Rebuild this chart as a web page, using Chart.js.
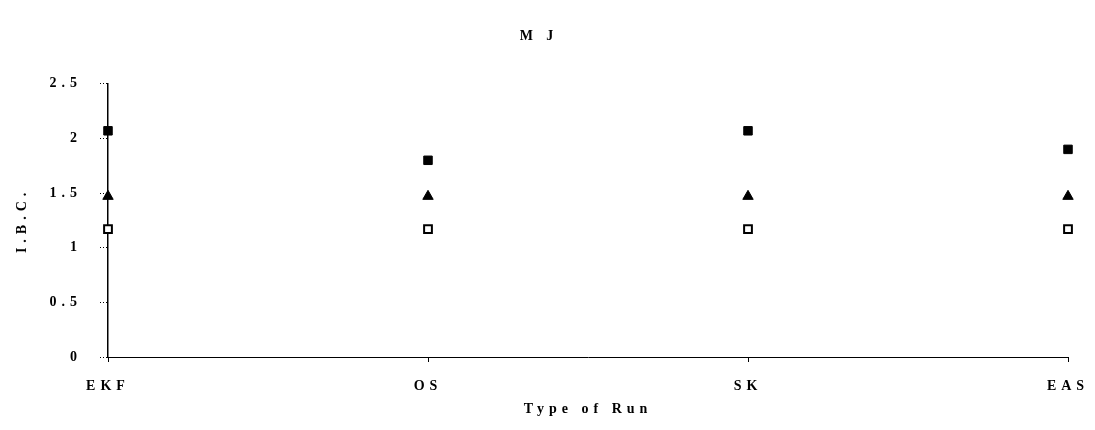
<!DOCTYPE html>
<html>
<head>
<meta charset="utf-8">
<script src="https://cdn.jsdelivr.net/npm/chart.js@4/dist/chart.umd.min.js"></script>
<style>
  html, body { margin: 0; padding: 0; background: #fff; }
  #wrap { width: 1095px; height: 430px; }
</style>
</head>
<body>
<div id="wrap"><canvas id="chart"></canvas></div>
<script>
const categories = ['EKF', 'OS', 'SK', 'EAS'];
const seriesFilled = [2.07, 1.80, 2.07, 1.90];
const seriesTriangle = [1.47, 1.47, 1.47, 1.47];
const seriesOpen = [1.17, 1.17, 1.17, 1.17];
const yTicks = [0, 0.5, 1, 1.5, 2, 2.5];

const serif = '"Liberation Serif", "DejaVu Serif", serif';

function toPoints(values) {
    return values.map((v, i) => ({ x: i, y: v }));
}

// spread the letters a bit, the scan has wide spaced text
const spacing = {
    id: 'spacing',
    beforeLayout(chart) { chart.ctx.letterSpacing = '5px'; },
    beforeDraw(chart) { chart.ctx.letterSpacing = '5px'; },
};

new Chart(document.getElementById('chart'), {
    type: 'scatter',
    data: {
        datasets: [
            {
                label: 'filled',
                data: toPoints(seriesFilled),
                pointStyle: 'rect',
                pointRadius: 6,
                backgroundColor: '#000',
                borderColor: '#000',
                borderWidth: 1,
                clip: false,
            },
            {
                label: 'triangle',
                data: toPoints(seriesTriangle),
                pointStyle: 'triangle',
                pointRadius: 6,
                backgroundColor: '#000',
                borderColor: '#000',
                borderWidth: 1,
                clip: false,
            },
            {
                label: 'open',
                data: toPoints(seriesOpen),
                pointStyle: 'rect',
                pointRadius: 5.5,
                backgroundColor: '#fff',
                borderColor: '#000',
                borderWidth: 2,
                clip: false,
            },
        ],
    },
    options: {
        responsive: true,
        maintainAspectRatio: false,
        animation: false,
        layout: { padding: { left: 10, right: 27, top: 0, bottom: 8 } },
        plugins: {
            legend: { display: false },
            tooltip: { enabled: false },
            title: {
                display: true,
                text: 'M J',
                color: '#000',
                font: { family: serif, size: 14, weight: 'bold' },
                padding: { top: 28, bottom: 39 },
            },
        },
        scales: {
            x: {
                type: 'linear',
                min: 0,
                max: 3,
                afterFit(scale) {
                    scale.height = 65;
                    scale.paddingLeft = 0;
                    scale.paddingRight = 0;
                },
                afterBuildTicks(scale) { scale.ticks = categories.map((c, i) => ({ value: i })); },
                ticks: {
                    color: '#000',
                    padding: 16,
                    font: { family: serif, size: 14, weight: 'bold' },
                    callback: (v) => categories[v],
                },
                grid: {
                    drawOnChartArea: false,
                    tickLength: 5,
                    tickColor: '#000',
                },
                border: { color: '#000', width: 1, dash: [5, 3] },
                title: {
                    display: true,
                    text: 'Type of Run',
                    color: '#000',
                    font: { family: serif, size: 14, weight: 'bold' },
                    padding: { top: 2 },
                },
            },
            y: {
                min: 0,
                max: 2.5,
                afterFit(scale) { scale.width = 98; },
                afterBuildTicks(scale) { scale.ticks = yTicks.map((v) => ({ value: v })); },
                ticks: {
                    color: '#000',
                    padding: 18,
                    font: { family: serif, size: 14, weight: 'bold' },
                    callback: (v) => String(v),
                },
                grid: {
                    drawOnChartArea: false,
                    tickLength: 8,
                    tickColor: '#000',
                    tickBorderDash: [1, 2],
                },
                border: { color: '#000', width: 1.5 },
                title: {
                    display: true,
                    text: 'I.B.C.',
                    color: '#000',
                    font: { family: serif, size: 14, weight: 'bold' },
                    padding: { bottom: 0 },
                },
            },
        },
    },
    plugins: [spacing],
});
</script>
</body>
</html>
